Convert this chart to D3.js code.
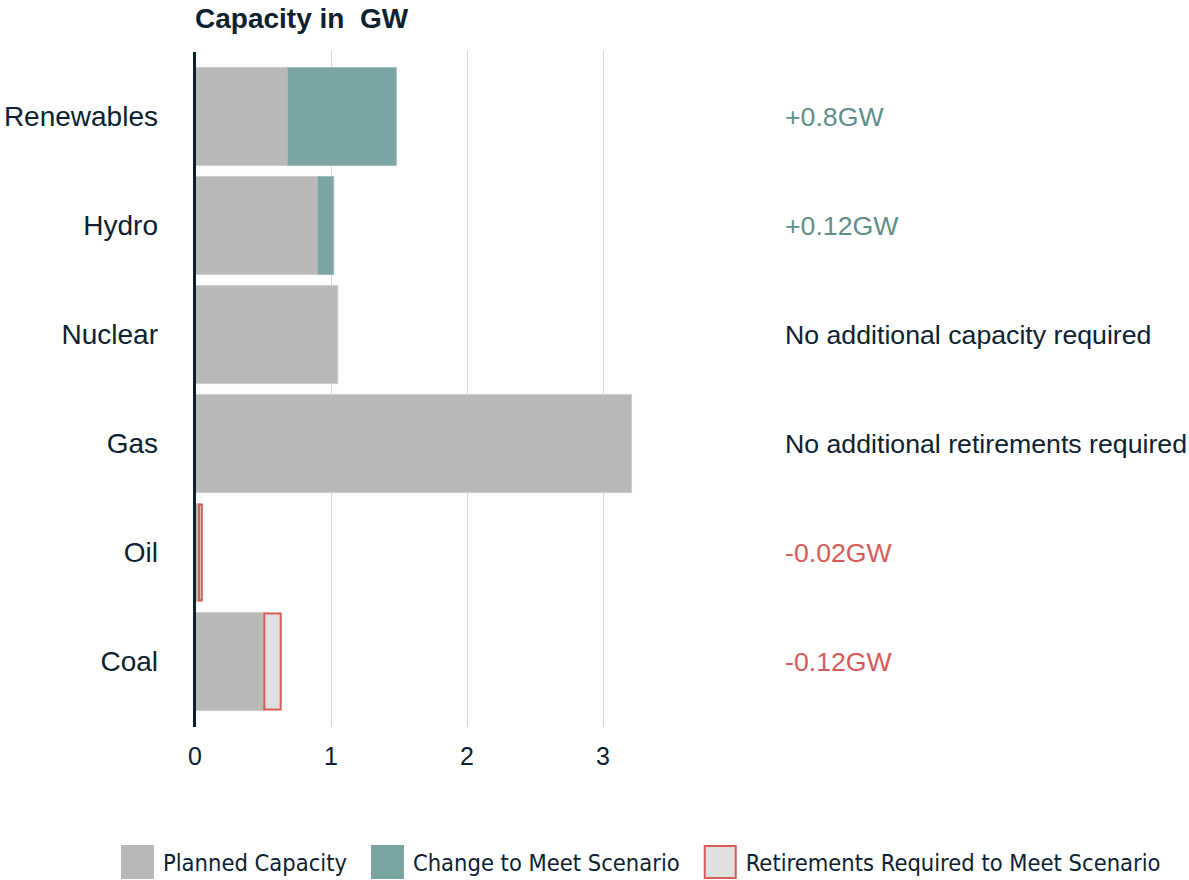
<!DOCTYPE html>
<html>
<head>
<meta charset="utf-8">
<script src="https://cdn.jsdelivr.net/npm/d3@7"></script>
<style>
  body { margin: 0; background: #fff; }
  svg { font-family: "Liberation Sans", Arial, sans-serif; }
</style>
</head>
<body>
<script>
var categories = ['Renewables', 'Hydro', 'Nuclear', 'Gas', 'Oil', 'Coal'];
var planned = [0.68, 0.90, 1.05, 3.21, 0.03, 0.51];
var change = [0.80, 0.12, 0, 0, 0, 0];
var retire = [0, 0, 0, 0, 0.02, 0.12];
var notes = ['+0.8GW', '+0.12GW', 'No additional capacity required',
    'No additional retirements required', '-0.02GW', '-0.12GW'];
var xTicks = [0, 1, 2, 3];
var legendLabels = ['Planned Capacity', 'Change to Meet Scenario', 'Retirements Required to Meet Scenario'];

var width = 1189,
    height = 880;

var ink = '#0d2230',
    grey = '#b8b8b6',
    teal = '#7aa5a2',
    tealText = '#5f8e8b',
    red = '#d65c5a',
    pale = '#e0e0e0';

var rows = categories.map(function (c, i) {
    return {cat: c, planned: planned[i], change: change[i], retire: retire[i], note: notes[i]};
});

var svg = d3.select('body').append('svg')
    .attr('width', width)
    .attr('height', height);

var x = d3.scaleLinear()
    .domain([0, 4])
    .range([195, 739]);

var y = d3.scaleBand()
    .domain(categories)
    .range([62, 716])
    .paddingInner(0.1)
    .paddingOuter(0.05);

// gridlines
svg.append('g').selectAll('line')
    .data(xTicks.filter(function (d) { return d > 0; }))
    .enter().append('line')
    .attr('x1', function (d) { return x(d) + 0.5; })
    .attr('x2', function (d) { return x(d) + 0.5; })
    .attr('y1', 51)
    .attr('y2', 727)
    .style('stroke', '#d6d6d6')
    .style('stroke-width', 1);

var bars = svg.append('g');

// planned
bars.selectAll('rect.planned').data(rows).enter().append('rect')
    .attr('class', 'planned')
    .attr('x', x(0))
    .attr('y', function (d) { return y(d.cat); })
    .attr('width', function (d) { return x(d.planned) - x(0); })
    .attr('height', y.bandwidth())
    .style('fill', grey)
    .style('stroke', '#cfcfcd')
    .style('stroke-width', 1);

// change to meet scenario
bars.selectAll('rect.change').data(rows.filter(function (d) { return d.change > 0; })).enter().append('rect')
    .attr('class', 'change')
    .attr('x', function (d) { return x(d.planned); })
    .attr('y', function (d) { return y(d.cat); })
    .attr('width', function (d) { return x(d.planned + d.change) - x(d.planned); })
    .attr('height', y.bandwidth())
    .style('fill', teal)
    .style('stroke', '#9cbdba')
    .style('stroke-width', 1);

// retirements
bars.selectAll('rect.retire').data(rows.filter(function (d) { return d.retire > 0; })).enter().append('rect')
    .attr('class', 'retire')
    .attr('x', function (d) { return x(d.planned); })
    .attr('y', function (d) { return y(d.cat) + 1; })
    .attr('width', function (d) { return x(d.planned + d.retire) - x(d.planned); })
    .attr('height', y.bandwidth() - 2)
    .style('fill', pale)
    .style('stroke', red)
    .style('stroke-width', 2);

// y axis line
svg.append('line')
    .attr('x1', 194.5).attr('x2', 194.5)
    .attr('y1', 52).attr('y2', 727)
    .style('stroke', ink)
    .style('stroke-width', 3);

// category labels
svg.append('g').selectAll('text').data(categories).enter().append('text')
    .attr('x', 158)
    .attr('y', function (d) { return y(d) + y.bandwidth() / 2; })
    .attr('dy', '0.35em')
    .attr('text-anchor', 'end')
    .style('font-size', '28px')
    .style('fill', ink)
    .text(function (d) { return d; });

// x tick labels
svg.append('g').selectAll('text').data(xTicks).enter().append('text')
    .attr('x', function (d) { return x(d); })
    .attr('y', 765)
    .attr('text-anchor', 'middle')
    .style('font-size', '25px')
    .style('fill', ink)
    .text(function (d) { return d; });

// notes on the right
svg.append('g').selectAll('text').data(rows).enter().append('text')
    .attr('x', 785)
    .attr('y', function (d) { return y(d.cat) + y.bandwidth() / 2; })
    .attr('dy', '0.35em')
    .style('font-size', '26.7px')
    .style('fill', function (d) {
        if (d.change > 0) return tealText;
        if (d.retire > 0) return red;
        return ink;
    })
    .text(function (d) { return d.note; });

// title
svg.append('text')
    .attr('x', 195)
    .attr('y', 28)
    .style('font-size', '28px')
    .style('font-weight', 'bold')
    .style('white-space', 'pre')
    .style('fill', ink)
    .text('Capacity in  GW');

// legend
var legend = svg.append('g');
var lx = 121;
legendLabels.forEach(function (label, i) {
    legend.append('rect')
        .attr('x', lx + (i === 2 ? 1 : 0))
        .attr('y', 845 + (i === 2 ? 1 : 0))
        .attr('width', i === 2 ? 31 : 33)
        .attr('height', i === 2 ? 32 : 34)
        .style('fill', [grey, teal, pale][i])
        .style('stroke', i === 2 ? red : 'none')
        .style('stroke-width', 2);
    var t = legend.append('text')
        .attr('x', lx + 42)
        .attr('y', 871)
        .style('font-family', '"DejaVu Sans Condensed", "DejaVu Sans", sans-serif')
        .style('font-size', '23.5px')
        .style('fill', ink)
        .text(label);
    lx += 42 + t.node().getComputedTextLength() + 24;
});
</script>
</body>
</html>
